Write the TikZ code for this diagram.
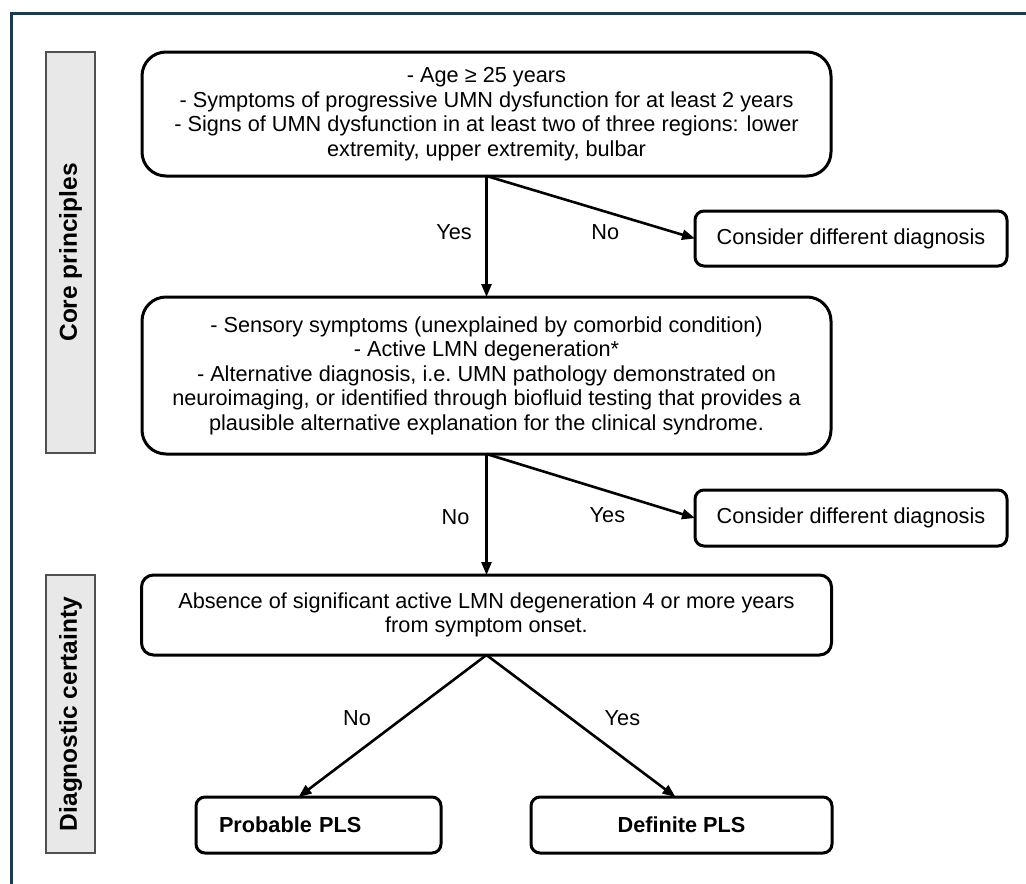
\documentclass[tikz,border=0pt]{standalone}
\usepackage{fontspec}
\setmainfont{Liberation Sans}
\usepackage{tikz}
\usetikzlibrary{positioning,arrows.meta,calc}

\definecolor{framenavy}{RGB}{28,58,78}
\definecolor{sidegray}{RGB}{232,232,232}
\definecolor{sideline}{RGB}{80,80,80}

\tikzset{
  box/.style={draw, line width=3pt, outer sep=0pt, inner sep=0pt, align=center,
    font=\fontsize{21.7}{24.5}\selectfont},
  bigbox/.style={box, rounded corners=24pt, minimum width=689pt},
  smallbox/.style={box, rounded corners=9pt, minimum height=55pt},
  sidebox/.style={draw=sideline, fill=sidegray, line width=1.2pt, minimum height=49pt,
    rotate=90, font=\fontsize{24.5}{28}\selectfont\bfseries},
  flow/.style={line width=2.6pt, -{Triangle[length=13pt,width=10pt]}},
  lbl/.style={font=\fontsize{21.7}{24.5}\selectfont, inner sep=0pt}
}

\begin{document}
\begin{tikzpicture}[x=1pt,y=-1pt]
\useasboundingbox (0,0) rectangle (1026,884);
% frame
\draw[framenavy, line width=3pt] (11,890) -- (11,13) -- (1030,13);

% side labels
\node[sidebox, minimum width=401pt] (core) at (70.5,252.5) {Core principles};
\node[sidebox, minimum width=278pt] (cert) at (70.5,714) {Diagnostic certainty};

% criteria
\node[bigbox, minimum height=124pt] (crit) at (486.5,114)
  {- Age ≥ 25 years\\
   - Symptoms of progressive UMN dysfunction for at least 2 years\\
   - Signs of UMN dysfunction in at least two of three regions: lower\\
   extremity, upper extremity, bulbar};
\node[bigbox, minimum height=157pt, below=121pt of crit] (excl)
  {- Sensory symptoms (unexplained by comorbid condition)\\
   - Active LMN degeneration*\\
   - Alternative diagnosis, i.e.\ UMN pathology demonstrated on\\
   neuroimaging, or identified through biofluid testing that provides a\\
   plausible alternative explanation for the clinical syndrome.};
\node[box, rounded corners=12pt, minimum width=690pt, minimum height=80pt, below=121pt of excl] (onset)
  {Absence of significant active LMN degeneration 4 or more years\\
   from symptom onset.};

% side outcomes
\node[smallbox, minimum width=312pt] (alt1) at (851,238.5) {Consider different diagnosis};
\node[smallbox, minimum width=312pt, minimum height=56pt] (alt2) at (851,518) {Consider different diagnosis};

% final
\node[smallbox, minimum height=56pt, inner xsep=23pt, text width=199pt, align=left] (probable) at (318.5,825) {\bfseries Probable PLS};
\node[smallbox, minimum width=301pt, minimum height=56pt, right=90pt of probable] (definite) {\bfseries Definite PLS};

% arrows
\draw[flow] (crit.south) -- node[lbl, pos=0.46, xshift=-32.5pt]{Yes} (excl.north);
\draw[flow] (crit.south) -- node[lbl, pos=0.57, yshift=-20.5pt]{No} (alt1.west);
\draw[flow] (excl.south) -- node[lbl, pos=0.52, xshift=-31pt]{No} (onset.north);
\draw[flow] (excl.south) -- node[lbl, pos=0.58, yshift=-24pt]{Yes} (alt2.west);
\draw[flow] (onset.south) -- node[lbl, pos=0.444, xshift=-46pt]{No} ([xshift=-20pt]probable.north);
\draw[flow] (onset.south) -- node[lbl, pos=0.444, xshift=52pt]{Yes} ([xshift=-6pt]definite.north);
\end{tikzpicture}
\end{document}
